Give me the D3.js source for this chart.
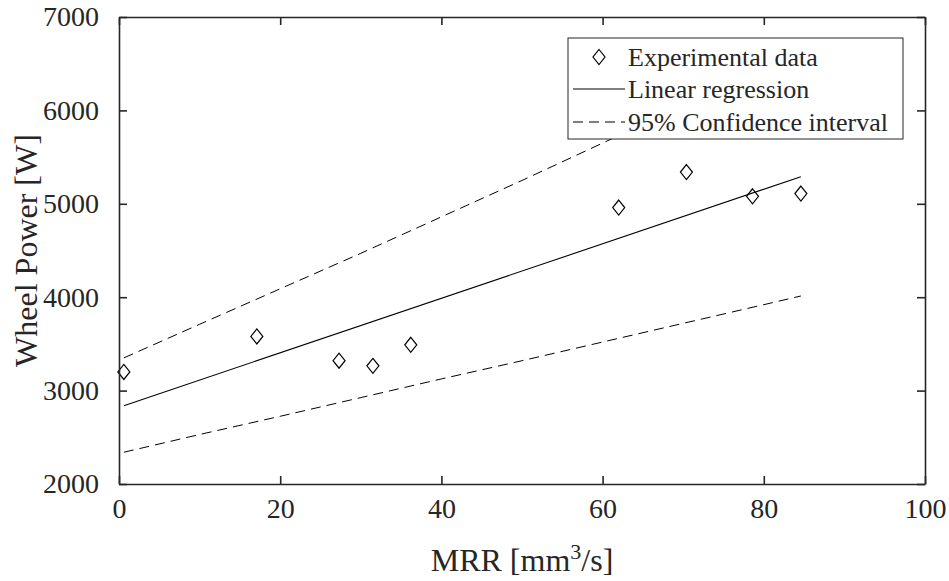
<!DOCTYPE html>
<html>
<head>
    <meta charset="utf-8">
    <script src="https://d3js.org/d3.v7.min.js"></script>
    <style>
        body { margin: 0; background: #fff; }
    </style>
</head>
<body>
<script>
    // measured points
    const mrr = [0.6, 17.1, 27.3, 31.5, 36.2, 62.0, 70.4, 78.6, 84.6];
    const power = [3200, 3580, 3320, 3265, 3490, 4960, 5340, 5080, 5110];

    // regression line (end points) and confidence bounds
    const fitX = [0.6, 84.6];
    const fitY = [2838, 5290];
    const ciX = [0.6, 10, 20, 30, 40, 50, 60, 70, 80, 84.6];
    const ciUpper = [3350, 3710, 4090, 4470, 4860, 5250, 5650, 6050, 6460, 6650];
    const ciLower = [2340, 2530, 2725, 2925, 3125, 3320, 3520, 3720, 3920, 4013];

    const xTicks = [0, 20, 40, 60, 80, 100];
    const yTicks = [2000, 3000, 4000, 5000, 6000, 7000];
    const legendLabels = ["Experimental data", "Linear regression", "95% Confidence interval"];

    const W = 949, H = 581;
    const mLeft = 119, mRight = 925, mTop = 17, mBottom = 484;
    const ink = "#262626";
    const serif = "'Liberation Serif', 'Times New Roman', serif";

    const svg = d3.select("body").append("svg")
        .attr("width", W).attr("height", H);

    const x = d3.scaleLinear().domain([0, 100]).range([mLeft, mRight]);
    const y = d3.scaleLinear().domain([2000, 7000]).range([mBottom, mTop]);

    const line = d3.line().x(d => x(d[0])).y(d => y(d[1]));

    // confidence bounds
    [ciUpper, ciLower].forEach(arr => {
        svg.append("path")
            .datum(ciX.map((v, i) => [v, arr[i]]))
            .attr("d", line)
            .attr("fill", "none")
            .attr("stroke", "#000")
            .attr("stroke-width", 1)
            .attr("stroke-dasharray", "10,6");
    });

    // regression
    svg.append("path")
        .datum(fitX.map((v, i) => [v, fitY[i]]))
        .attr("d", line)
        .attr("fill", "none")
        .attr("stroke", "#000")
        .attr("stroke-width", 1.1);

    const diamond = (cx, cy) =>
        `M${cx},${cy - 7.5}L${cx + 6},${cy}L${cx},${cy + 7.5}L${cx - 6},${cy}Z`;

    svg.append("g").selectAll("path")
        .data(mrr.map((v, i) => [v, power[i]]))
        .enter()
        .append("path")
        .attr("d", d => diamond(x(d[0]), y(d[1])))
        .attr("fill", "none")
        .attr("stroke", "#000")
        .attr("stroke-width", 1.2);

    // axes: bottom/left with labels, top/right ticks only (inward)
    const fmt = d3.format("d");
    svg.append("g")
        .attr("transform", `translate(0,${mBottom})`)
        .call(d3.axisBottom(x).tickValues(xTicks).tickFormat(fmt).tickSizeInner(-8).tickSizeOuter(0).tickPadding(14));
    svg.append("g")
        .attr("transform", `translate(${mLeft},0)`)
        .call(d3.axisLeft(y).tickValues(yTicks).tickFormat(fmt).tickSizeInner(-8).tickSizeOuter(0).tickPadding(20));
    svg.append("g")
        .attr("transform", `translate(0,${mTop})`)
        .call(d3.axisTop(x).tickValues(xTicks).tickFormat("").tickSizeInner(-8).tickSizeOuter(0));
    svg.append("g")
        .attr("transform", `translate(${mRight},0)`)
        .call(d3.axisRight(y).tickValues(yTicks).tickFormat("").tickSizeInner(-8).tickSizeOuter(0));

    svg.selectAll(".domain").attr("stroke", ink).attr("stroke-width", 1.6);
    svg.selectAll(".tick line").attr("stroke", ink).attr("stroke-width", 1.6);
    svg.selectAll(".tick text")
        .style("font-family", serif)
        .style("font-size", "28px")
        .style("fill", ink);

    // legend
    const lg = svg.append("g");
    lg.append("rect")
        .attr("x", 568).attr("y", 38)
        .attr("width", 335).attr("height", 101)
        .attr("fill", "#fff")
        .attr("stroke", ink)
        .attr("stroke-width", 1);
    const rowY = [57, 89, 122];
    lg.append("path")
        .attr("d", diamond(599, rowY[0]))
        .attr("fill", "none").attr("stroke", "#000").attr("stroke-width", 1.2);
    lg.append("line")
        .attr("x1", 573).attr("x2", 625).attr("y1", rowY[1]).attr("y2", rowY[1])
        .attr("stroke", "#000").attr("stroke-width", 1.1);
    lg.append("line")
        .attr("x1", 573).attr("x2", 625).attr("y1", rowY[2]).attr("y2", rowY[2])
        .attr("stroke", "#000").attr("stroke-width", 1)
        .attr("stroke-dasharray", "10,6");
    lg.selectAll("text.lab")
        .data(legendLabels)
        .enter()
        .append("text")
        .attr("class", "lab")
        .attr("x", 628)
        .attr("y", (d, i) => rowY[i])
        .attr("dy", "0.35em")
        .style("font-family", serif)
        .style("font-size", "26px")
        .style("fill", ink)
        .text(d => d);

    // axis titles
    const xl = svg.append("text")
        .attr("x", (mLeft + mRight) / 2)
        .attr("y", 571)
        .attr("text-anchor", "middle")
        .style("font-family", serif)
        .style("font-size", "32px")
        .style("fill", ink);
    xl.append("tspan").text("MRR [mm");
    xl.append("tspan").attr("dy", -12).style("font-size", "22px").text("3");
    xl.append("tspan").attr("dy", 12).text("/s]");

    svg.append("text")
        .attr("transform", `translate(37,${(mTop + mBottom) / 2}) rotate(-90)`)
        .attr("text-anchor", "middle")
        .style("font-family", serif)
        .style("font-size", "32px")
        .style("fill", ink)
        .text("Wheel Power [W]");
</script>
</body>
</html>
